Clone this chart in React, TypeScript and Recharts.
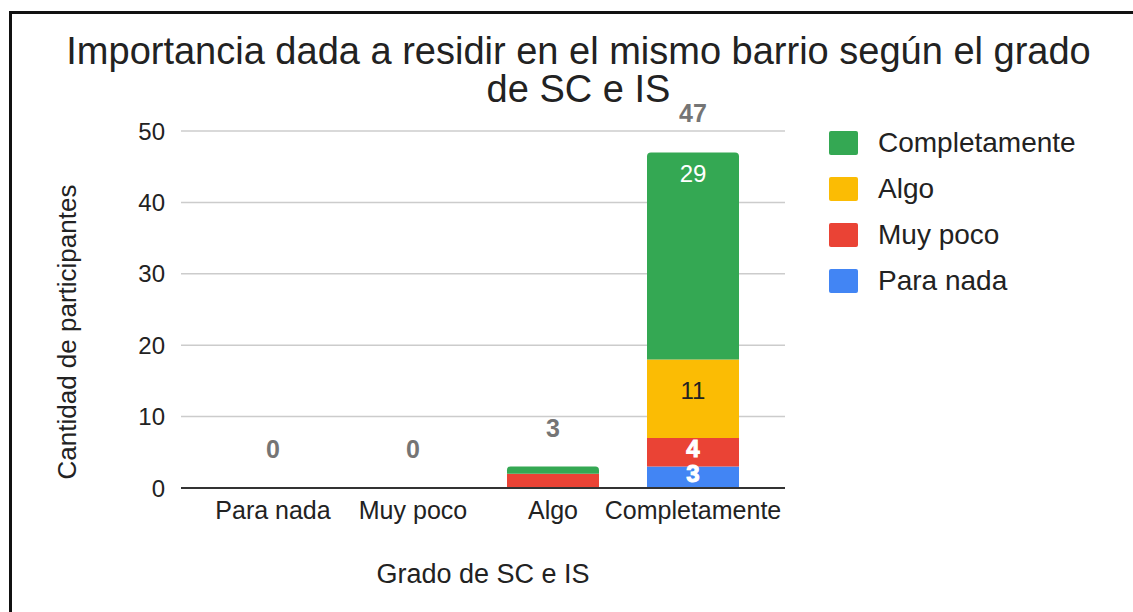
import React from 'react';
import { ComposedChart, Bar, Line, XAxis, YAxis, CartesianGrid, LabelList } from 'recharts';

const categories = ['Para nada', 'Muy poco', 'Algo', 'Completamente'];
const paraNada = [0, 0, 0, 3];
const muyPoco = [0, 0, 2, 4];
const algo = [0, 0, 0, 11];
const completamente = [0, 0, 1, 29];
const yTicks = [0, 10, 20, 30, 40, 50];

const FONT = '"Liberation Sans", Arial, sans-serif';

// stacked bottom -> top
const series = [
  { key: 'paraNada', name: 'Para nada', color: '#4285F4', text: '#ffffff', values: paraNada },
  { key: 'muyPoco', name: 'Muy poco', color: '#EA4335', text: '#ffffff', values: muyPoco },
  { key: 'algo', name: 'Algo', color: '#FBBC04', text: '#222222', values: algo },
  { key: 'completamente', name: 'Completamente', color: '#34A853', text: '#ffffff', values: completamente },
];

const data = categories.map((cat, i) => {
  const row: Record<string, any> = { cat, total: 0 };
  series.forEach((s) => {
    row[s.key] = s.values[i];
    row.total += s.values[i];
  });
  return row;
});

function segmentLabel(textColor: string) {
  return (props: any) => {
    const { x, y, width, height, value } = props;
    if (!height || height < 18) return null;
    const center = y + height / 2;
    const baseline = height > 100 ? y + 30 : height > 40 ? center : center + 5;
    const small = textColor === '#ffffff' && height < 40;
    return (
      <text
        x={x + width / 2}
        y={baseline}
        textAnchor="middle"
        fontFamily={FONT}
        fontSize={24}
        fontWeight={small ? 'bold' : 'normal'}
        fill={textColor}
        stroke={small ? '#ffffff' : 'none'}
        strokeWidth={small ? 1 : 0}
      >
        {value}
      </text>
    );
  };
}

const totalLabel = (props: any) => {
  const { x, y, value } = props;
  return (
    <text x={x} y={y - 30} textAnchor="middle" fontFamily={FONT} fontSize={25} fontWeight="bold" fill="#757575">
      {value}
    </text>
  );
};

const yTitle = () => (
  <text
    x={76}
    y={332}
    transform="rotate(-90, 76, 332)"
    textAnchor="middle"
    fontFamily={FONT}
    fontSize={26}
    fill="#222"
  >
    Cantidad de participantes
  </text>
);

export default function App() {
  const legendItems = [...series].reverse();
  return (
    <div style={{ position: 'absolute', left: 0, top: 0, width: 1133, height: 612, overflow: 'hidden', background: '#fff', fontFamily: FONT }}>
      <div style={{ position: 'absolute', left: 9, top: 11, width: 1200, height: 700, borderTop: '3px solid #111', borderLeft: '3px solid #111' }} />

      <div style={{ position: 'absolute', left: 0, top: 32, width: 1157, textAlign: 'center', fontSize: 38, lineHeight: '38px', color: '#222', whiteSpace: 'nowrap' }}>
        Importancia dada a residir en el mismo barrio según el grado
        <br />
        de SC e IS
      </div>

      <div style={{ position: 'absolute', left: 0, top: 0 }}>
        <ComposedChart width={1133} height={612} data={data} margin={{ top: 131, right: 348, bottom: 0, left: 0 }}>
          <CartesianGrid vertical={false} stroke="#cccccc" strokeWidth={1.5} />
          <XAxis
            dataKey="cat"
            height={124}
            padding={{ left: 22, right: 22 }}
            tickLine={false}
            tickSize={0}
            tickMargin={13}
            axisLine={{ stroke: '#333', strokeWidth: 2 }}
            tick={{ fill: '#222', fontSize: 25, fontFamily: FONT }}
            label={{ value: 'Grado de SC e IS', position: 'insideBottom', offset: 29, fill: '#222', fontSize: 27, fontFamily: FONT }}
          />
          <YAxis
            width={181}
            domain={[0, 50]}
            ticks={yTicks}
            tickLine={false}
            axisLine={false}
            tickSize={0}
            tickMargin={16}
            tick={{ fill: '#222', fontSize: 24, fontFamily: FONT }}
            label={yTitle}
          />
          {series.map((s, i) => (
            <Bar
              key={s.key}
              dataKey={s.key}
              name={s.name}
              stackId="a"
              fill={s.color}
              barSize={92}
              radius={i === series.length - 1 ? [4, 4, 0, 0] : 0}
              isAnimationActive={false}
            >
              <LabelList dataKey={s.key} content={segmentLabel(s.text)} />
            </Bar>
          ))}
          <Line
            dataKey="total"
            stroke="none"
            dot={false}
            activeDot={false}
            legendType="none"
            isAnimationActive={false}
          >
            <LabelList dataKey="total" content={totalLabel} />
          </Line>
        </ComposedChart>
      </div>

      {legendItems.map((s, i) => (
        <div
          key={s.key}
          style={{ position: 'absolute', left: 829, top: 131 + i * 46, height: 24, display: 'flex', alignItems: 'center', fontSize: 28, lineHeight: '24px', color: '#222', whiteSpace: 'nowrap' }}
        >
          <span style={{ display: 'inline-block', width: 29, height: 24, borderRadius: 2, background: s.color, marginRight: 20 }} />
          {s.name}
        </div>
      ))}
    </div>
  );
}
